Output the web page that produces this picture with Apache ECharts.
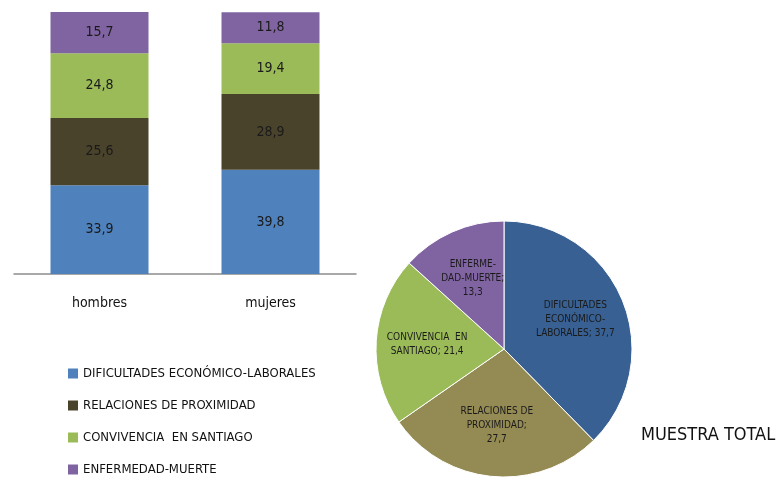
<!DOCTYPE html>
<html lang="es">
<head>
<meta charset="UTF-8">
<title>Muestra total</title>
<script src="https://cdn.jsdelivr.net/npm/echarts@6/dist/echarts.min.js"></script>
<style>
  html, body { margin: 0; padding: 0; background: #fff; }
  #chart { width: 782px; height: 477px; }
</style>
</head>
<body>
<div id="chart"></div>
<script>
var FONT = "'Liberation Sans Narrow', 'DejaVu Sans Condensed', 'Open Sans', sans-serif"

// datos
var groups = ['hombres', 'mujeres']
var categories = ['DIFICULTADES ECONÓMICO-LABORALES', 'RELACIONES DE PROXIMIDAD', 'CONVIVENCIA  EN SANTIAGO', 'ENFERMEDAD-MUERTE']
var dificultades = [33.9, 39.8]
var relaciones = [25.6, 28.9]
var convivencia = [24.8, 19.4]
var enfermedad = [15.7, 11.8]
var totalValues = [37.7, 27.7, 21.4, 13.3]
var pieLabels = ['DIFICULTADES\nECONÓMICO-\nLABORALES', 'RELACIONES DE\nPROXIMIDAD;\n', 'CONVIVENCIA  EN\nSANTIAGO', 'ENFERME-\nDAD-MUERTE;\n']

var barColors = ['#4f81bd', '#4a432c', '#9bbb59', '#8064a2']
var pieColors = ['#386092', '#948a54', '#9bbb59', '#8064a2']

var fmt = function (v) { return String(v).replace('.', ',') }

var barData = [dificultades, relaciones, convivencia, enfermedad]
var barSeries = categories.map(function (name, i) {
    return {
        name: name,
        type: 'bar',
        stack: 'total',
        barWidth: 98,
        data: barData[i],
        itemStyle: { color: barColors[i] },
        label: {
            show: true,
            position: 'inside',
            color: '#1a1a1a',
            fontFamily: FONT,
            fontSize: 14,
            formatter: function (p) { return fmt(p.value) }
        }
    }
})

var pieData = categories.map(function (name, i) {
    return { name: name, value: totalValues[i], itemStyle: { color: pieColors[i] } }
})

// etiquetas del pastel en una capa transparente, algo mas afuera del centro
var pieLabelData = categories.map(function (name, i) {
    return { name: name, value: totalValues[i], labelText: pieLabels[i] }
})

var mCharts = echarts.init(document.getElementById('chart'))
mCharts.setOption({
    animation: false,
    textStyle: { fontFamily: FONT },
    title: {
        text: 'MUESTRA TOTAL',
        left: 636,
        top: 421,
        textStyle: { fontSize: 18, fontWeight: 'normal', color: '#111', fontFamily: FONT }
    },
    legend: {
        data: categories,
        orient: 'vertical',
        left: 63,
        top: 362,
        height: 130,
        itemWidth: 10,
        itemHeight: 10,
        itemGap: 19,
        icon: 'rect',
        textStyle: { fontSize: 13, color: '#111', fontFamily: FONT }
    },
    grid: { left: 14, right: 426, top: 12, bottom: 203 },
    xAxis: {
        type: 'category',
        data: groups,
        axisTick: { show: false },
        axisLine: { lineStyle: { color: '#8c8c8c', width: 1.5 } },
        axisLabel: { color: '#111', fontSize: 14, margin: 22, fontFamily: FONT }
    },
    yAxis: { type: 'value', min: 0, max: 100, show: false },
    series: barSeries.concat([
        {
            type: 'pie',
            center: [504, 349],
            radius: [0, 128],
            startAngle: 90,
            clockwise: true,
            data: pieData,
            label: { show: false },
            labelLine: { show: false },
            itemStyle: { borderColor: '#fff', borderWidth: 1 }
        },
        {
            type: 'pie',
            silent: true,
            center: [504, 349],
            radius: [20, 128],
            startAngle: 90,
            clockwise: true,
            data: pieLabelData,
            itemStyle: { color: 'transparent' },
            label: {
                show: true,
                position: 'inside',
                color: '#1a1a1a',
                fontSize: 10,
                lineHeight: 14,
                fontFamily: FONT,
                formatter: function (p) {
                    var t = p.data.labelText
                    var sep = t.charAt(t.length - 1) === '\n' ? '' : '; '
                    return t + sep + fmt(p.value)
                }
            },
            labelLine: { show: false }
        }
    ])
})
</script>
</body>
</html>
